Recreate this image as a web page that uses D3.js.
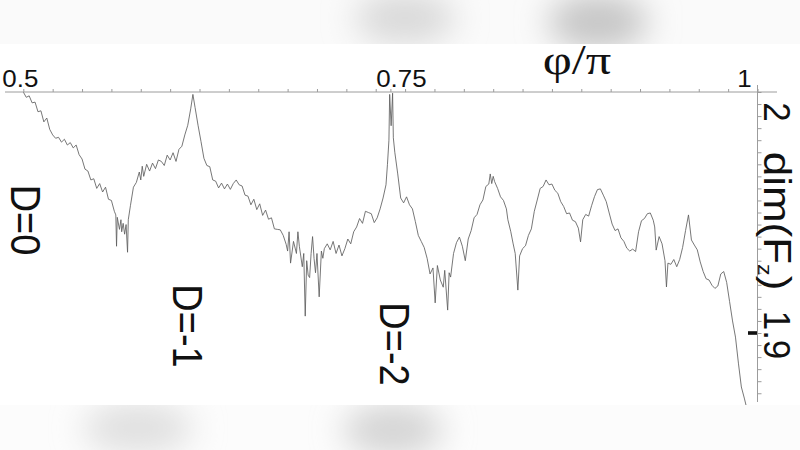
<!DOCTYPE html>
<html><head><meta charset="utf-8">
<script src="https://cdn.jsdelivr.net/npm/d3@7"></script>
<style>html,body{margin:0;padding:0;background:#fff;}svg{display:block;}</style>
</head><body>
<svg id="c" width="800" height="450"></svg>
<script>
// ---- data ----
const phi = [0.500,0.502,0.504,0.506,0.508,0.510,0.512,0.514,0.516,0.518,0.520,0.522,0.524,0.526,0.528,0.530,0.532,0.534,0.536,0.538,0.540,0.542,0.544,0.546,0.548,0.550,0.552,0.554,0.556,0.558,0.560,0.562,0.563,0.5635,0.564,0.5655,0.5665,0.567,0.568,0.569,0.570,0.571,0.5715,0.573,0.575,0.577,0.579,0.580,0.581,0.582,0.584,0.586,0.588,0.590,0.592,0.594,0.596,0.598,0.600,0.602,0.604,0.606,0.608,0.610,0.612,0.614,0.6155,0.617,0.619,0.621,0.623,0.625,0.627,0.629,0.631,0.633,0.635,0.637,0.639,0.641,0.643,0.645,0.647,0.649,0.651,0.653,0.655,0.657,0.659,0.661,0.663,0.665,0.667,0.669,0.671,0.673,0.675,0.677,0.679,0.680,0.681,0.682,0.684,0.686,0.687,0.688,0.690,0.691,0.692,0.693,0.694,0.695,0.696,0.697,0.698,0.699,0.700,0.7015,0.703,0.704,0.705,0.707,0.709,0.711,0.713,0.715,0.717,0.719,0.721,0.723,0.725,0.727,0.729,0.731,0.733,0.735,0.737,0.739,0.741,0.743,0.745,0.747,0.748,0.749,0.7495,0.7505,0.7515,0.752,0.753,0.755,0.757,0.759,0.761,0.763,0.765,0.767,0.769,0.771,0.773,0.775,0.777,0.779,0.7805,0.782,0.784,0.786,0.787,0.789,0.790,0.791,0.793,0.795,0.797,0.799,0.801,0.803,0.805,0.807,0.809,0.811,0.813,0.815,0.817,0.818,0.819,0.820,0.821,0.823,0.825,0.827,0.829,0.830,0.832,0.8335,0.835,0.8368,0.838,0.840,0.842,0.844,0.846,0.848,0.850,0.852,0.854,0.856,0.858,0.860,0.862,0.864,0.866,0.868,0.870,0.872,0.874,0.876,0.878,0.8795,0.881,0.883,0.885,0.887,0.889,0.891,0.893,0.895,0.897,0.899,0.901,0.903,0.905,0.907,0.909,0.911,0.913,0.915,0.917,0.919,0.921,0.923,0.925,0.927,0.929,0.930,0.931,0.933,0.935,0.937,0.938,0.939,0.941,0.943,0.945,0.947,0.949,0.951,0.953,0.955,0.957,0.959,0.961,0.963,0.965,0.967,0.969,0.971,0.973,0.975,0.977,0.979,0.981,0.983,0.985,0.987,0.989,0.991,0.993,0.995];
const dimFz = [2.0000,1.9978,1.9984,1.9955,1.9958,1.9918,1.9922,1.9876,1.9892,1.9845,1.9822,1.9808,1.9812,1.9792,1.9804,1.9780,1.9790,1.9768,1.9780,1.9740,1.9722,1.9680,1.9672,1.9635,1.9640,1.9600,1.9620,1.9585,1.9605,1.9555,1.9550,1.9505,1.9490,1.9360,1.9480,1.9430,1.9470,1.9420,1.9455,1.9410,1.9450,1.9335,1.9470,1.9530,1.9605,1.9625,1.9668,1.9635,1.9692,1.9650,1.9700,1.9672,1.9705,1.9682,1.9718,1.9712,1.9695,1.9738,1.9718,1.9748,1.9712,1.9762,1.9775,1.9822,1.9862,1.9930,1.9990,1.9935,1.9862,1.9795,1.9725,1.9695,1.9690,1.9635,1.9630,1.9602,1.9622,1.9598,1.9618,1.9596,1.9620,1.9635,1.9615,1.9610,1.9572,1.9568,1.9532,1.9555,1.9512,1.9536,1.9488,1.9510,1.9472,1.9478,1.9432,1.9430,1.9428,1.9405,1.9368,1.9340,1.9420,1.9290,1.9380,1.9330,1.9420,1.9360,1.9275,1.9330,1.9070,1.9300,1.9240,1.9230,1.9330,1.9400,1.9310,1.9250,1.9330,1.9150,1.9340,1.9310,1.9350,1.9370,1.9345,1.9380,1.9330,1.9365,1.9320,1.9350,1.9390,1.9370,1.9420,1.9440,1.9475,1.9455,1.9505,1.9500,1.9495,1.9458,1.9478,1.9515,1.9560,1.9615,1.9700,1.9800,1.9990,1.9860,1.9995,1.9810,1.9750,1.9660,1.9560,1.9540,1.9565,1.9532,1.9515,1.9462,1.9405,1.9380,1.9355,1.9310,1.9245,1.9270,1.9125,1.9280,1.9220,1.9190,1.9260,1.9095,1.9250,1.9232,1.9330,1.9375,1.9398,1.9360,1.9300,1.9390,1.9425,1.9478,1.9492,1.9532,1.9552,1.9608,1.9618,1.9660,1.9620,1.9650,1.9628,1.9600,1.9565,1.9550,1.9515,1.9470,1.9420,1.9373,1.9330,1.9178,1.9320,1.9350,1.9362,1.9405,1.9432,1.9505,1.9552,1.9600,1.9608,1.9635,1.9615,1.9618,1.9592,1.9580,1.9545,1.9525,1.9495,1.9498,1.9468,1.9462,1.9435,1.9378,1.9470,1.9492,1.9485,1.9528,1.9566,1.9595,1.9598,1.9572,1.9545,1.9498,1.9452,1.9425,1.9432,1.9395,1.9380,1.9352,1.9340,1.9348,1.9338,1.9420,1.9466,1.9475,1.9495,1.9498,1.9468,1.9440,1.9344,1.9400,1.9370,1.9300,1.9191,1.9290,1.9285,1.9305,1.9275,1.9305,1.9355,1.9425,1.9490,1.9386,1.9365,1.9345,1.9295,1.9255,1.9225,1.9220,1.9198,1.9185,1.9195,1.9245,1.9255,1.9210,1.9130,1.9050,1.8983,1.8875,1.8776,1.8730,1.8680,1.8600];
const xMajorTicks = [0.5, 0.75, 1];
const xTickLabels = ["0.5", "0.75", "1"];
const yMajorTicks = [2, 1.9];
const yTickLabels = ["2", "1.9"];
const dLabels = ["D=0", "D=-1", "D=-2"];
const xTitle = "φ/π";

// ---- layout ----
const svg = d3.select("#c");
const x = d3.scaleLinear().domain([0.5, 1]).range([23.3, 757.5]);
const y = d3.scaleLinear().domain([1.9, 2.0]).range([333, 92]);
const axisGray = "#9c9c9c";

svg.append("rect").attr("width", 800).attr("height", 450).attr("fill", "#fff");

// curve
const n = Math.min(phi.length, dimFz.length);
const pts = d3.range(n).map(i => [phi[i], dimFz[i]]);
svg.append("path").datum(pts)
  .attr("fill", "none").attr("stroke", "#5e5e5e").attr("stroke-width", 0.85)
  .attr("stroke-linejoin", "miter")
  .attr("d", d3.line().x(d => x(d[0])).y(d => y(d[1])));

// x axis (top)
const xMinor = d3.range(0, 26).map(k => 0.5 + k * 0.02);
const gx = svg.append("g").attr("transform", "translate(0,92)")
  .call(d3.axisTop(x).tickValues(xMinor.concat([0.75])).tickSize(3).tickFormat(""));
gx.select(".domain").remove();
gx.selectAll("line").attr("stroke", axisGray);
svg.append("line").attr("x1", 5).attr("x2", 777).attr("y1", 92).attr("y2", 92)
  .attr("stroke", axisGray).attr("stroke-width", 1);

// y axis (right)
const yMinor = d3.range(0, 27).map(k => 2.0 - k * 0.005);
const gy = svg.append("g").attr("transform", "translate(757.5,0)")
  .call(d3.axisRight(y).tickValues(yMinor).tickSize(4).tickFormat(""));
gy.select(".domain").remove();
gy.selectAll("line").attr("stroke", axisGray);
svg.append("line").attr("x1", 757.5).attr("x2", 757.5).attr("y1", 85).attr("y2", 402)
  .attr("stroke", axisGray).attr("stroke-width", 1);
// heavy 1.9 tick
svg.append("rect").attr("x", 748).attr("y", y(1.9) - 1.8).attr("width", 9).attr("height", 3.6).attr("fill", "#111");

// x tick labels
const xLabelDx = [-3, 11, -13];
svg.selectAll("text.xl").data(xMajorTicks).join("text").attr("class", "xl")
  .attr("transform", (d, i) => `translate(${x(d) + xLabelDx[i]},87) scale(1.08,1)`)
  .attr("text-anchor", "middle")
  .attr("font-family", "'Liberation Sans', Arial, sans-serif").attr("font-size", 24)
  .attr("fill", "#111").text((d, i) => xTickLabels[i]);

// x title
svg.append("text").attr("transform", "translate(577,74) scale(1.2,1)").attr("text-anchor", "middle")
  .attr("font-family", "'Liberation Serif', 'Times New Roman', serif").attr("font-size", 42)
  .attr("fill", "#111").text(xTitle);

// y tick labels (rotated)
const yLabelPos = [112, 335];
yMajorTicks.forEach((d, i) => {
  svg.append("text")
    .attr("transform", `translate(764,${yLabelPos[i]}) rotate(90) scale(1.03,1.1)`)
    .attr("text-anchor", "middle")
    .attr("font-family", "'Liberation Sans', Arial, sans-serif").attr("font-size", 34)
    .attr("fill", "#111").text(yTickLabels[i]);
});
// y title
const yt = svg.append("text")
  .attr("transform", "translate(764,221) rotate(90) scale(1.1,0.95)")
  .attr("text-anchor", "middle")
  .attr("font-family", "'Liberation Sans', Arial, sans-serif").attr("font-size", 40)
  .attr("fill", "#111");
yt.append("tspan").text("dim(F");
yt.append("tspan").attr("font-size", 21).attr("dy", 6).text("z");
yt.append("tspan").attr("dy", -6).text(")");

// D labels
const dPos = [[10.5, 220], [173, 326], [380, 344]];
dLabels.forEach((t, i) => {
  svg.append("text")
    .attr("transform", `translate(${dPos[i][0]},${dPos[i][1]}) rotate(90) scale(1,1.12)`)
    .attr("text-anchor", "middle")
    .attr("font-family", "'Liberation Sans', Arial, sans-serif").attr("font-size", 38)
    .attr("fill", "#111").text(t);
});

// blurred bands at top and bottom (photo artefacts)
const defs = svg.append("defs");
defs.append("filter").attr("id", "blur").attr("x", "-50%").attr("y", "-50%").attr("width", "200%").attr("height", "200%")
  .append("feGaussianBlur").attr("stdDeviation", 16);
defs.append("clipPath").attr("id", "topClip").append("rect").attr("width", 800).attr("height", 44);
defs.append("clipPath").attr("id", "botClip").append("rect").attr("y", 405).attr("width", 800).attr("height", 45);
const topBand = svg.append("g").attr("clip-path", "url(#topClip)");
topBand.append("rect").attr("width", 800).attr("height", 44).attr("fill", "#fafafa");
topBand.append("ellipse").attr("cx", 405).attr("cy", 18).attr("rx", 50).attr("ry", 26).attr("fill", "#d9d9d9").attr("filter", "url(#blur)");
topBand.append("ellipse").attr("cx", 598).attr("cy", 22).attr("rx", 50).attr("ry", 28).attr("fill", "#c6c6c6").attr("filter", "url(#blur)");
const botBand = svg.append("g").attr("clip-path", "url(#botClip)");
botBand.append("rect").attr("y", 405).attr("width", 800).attr("height", 45).attr("fill", "#fcfcfc");
botBand.append("ellipse").attr("cx", 138).attr("cy", 428).attr("rx", 55).attr("ry", 26).attr("fill", "#e0e0e0").attr("filter", "url(#blur)");
botBand.append("ellipse").attr("cx", 393).attr("cy", 430).attr("rx", 50).attr("ry", 26).attr("fill", "#d4d4d4").attr("filter", "url(#blur)");
</script>
</body></html>
